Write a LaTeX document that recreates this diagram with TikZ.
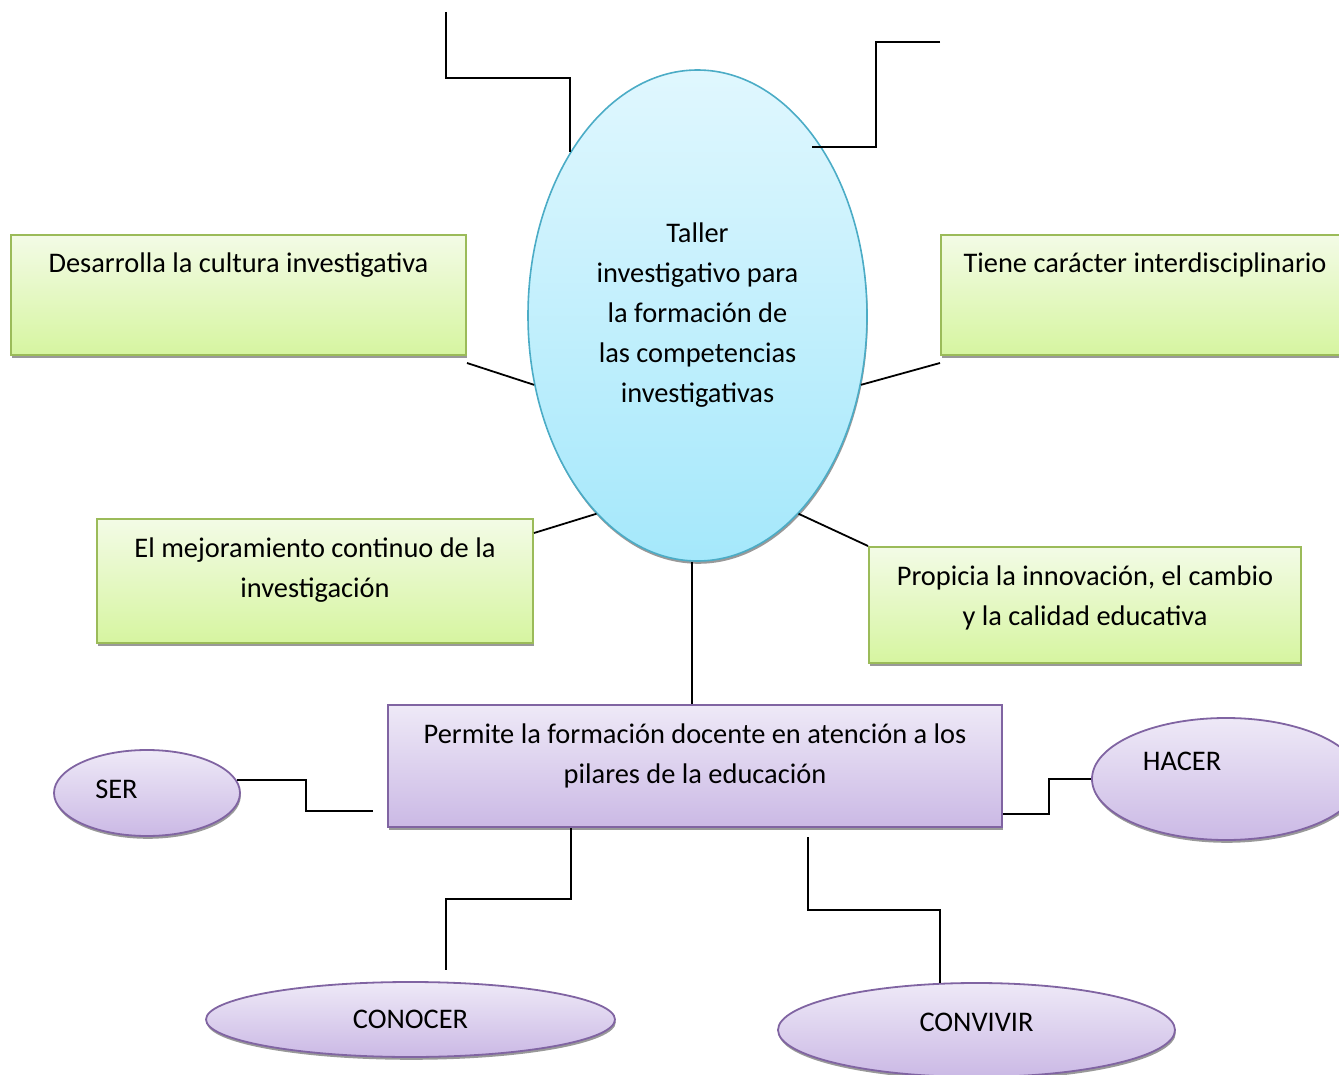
\documentclass[tikz,border=0pt]{standalone}
\usepackage{fontspec}
\setmainfont{Carlito}
\usepackage{tikz}
\usetikzlibrary{shapes.geometric, shadows}
\usetikzlibrary{calc}

\definecolor{azularriba}{HTML}{E0F7FE}
\definecolor{azulabajo}{HTML}{A5E8FB}
\definecolor{azulborde}{HTML}{4BACC6}
\definecolor{verdearriba}{HTML}{F3FBE6}
\definecolor{verdeabajo}{HTML}{D6F5A0}
\definecolor{verdeborde}{HTML}{9BBB59}
\definecolor{lilaarriba}{HTML}{EEE9F7}
\definecolor{lilaabajo}{HTML}{CBB9E5}
\definecolor{lilaborde}{HTML}{8064A2}

\begin{document}
\begin{tikzpicture}[x=0.5pt,y=-0.5pt,font=\fontsize{14.2}{20}\selectfont,
        sombra/.style={drop shadow={shadow xshift=0.4pt,shadow yshift=-1.4pt,fill=black!40,opacity=1}},
        caja/.style={rectangle,sombra,anchor=north west,line width=1pt,inner sep=0pt,align=flush center,text height=19pt},
        verde/.style={caja,draw=verdeborde,top color=verdearriba,bottom color=verdeabajo},
        lila/.style={caja,draw=lilaborde,top color=lilaarriba,bottom color=lilaabajo},
        pilar/.style={ellipse,sombra,draw=lilaborde,line width=0.9pt,top color=lilaarriba,bottom color=lilaabajo,inner sep=0pt},
        linea/.style={line width=0.9pt}]
                \useasboundingbox (0,0) rectangle (1339,1075);
                \node[ellipse,sombra,draw=azulborde,line width=0.8pt,top color=azularriba,bottom color=azulabajo,minimum width=169.5pt,minimum height=245.5pt,inner sep=0pt,align=center] (taller) at (697.5,315.5) {Taller\\investigativo para\\la formación de\\las competencias\\investigativas};
                \node[verde,text width=227.5pt,text depth=41pt] (desarrolla) at (10,234) {Desarrolla la cultura investigativa};
                \node[verde,text width=204pt,text depth=41pt] (tiene) at (940,234) {Tiene carácter interdisciplinario};
                \node[verde,text width=218pt,text depth=43pt] (mejora) at (96,518) {El mejoramiento continuo de la\\investigación};
                \node[verde,text width=216pt,text depth=39pt] (propicia) at (868,546) {Propicia la innovación, el cambio\\y la calidad educativa};
                \node[lila,text width=307pt,text depth=42pt] (permite) at (387,704) {Permite la formación docente en atención a los\\pilares de la educación};
                \node[pilar,minimum width=93pt,minimum height=43pt,text depth=4pt] (ser) at (147,793) {\mbox{SER\hspace{30.5pt}}};
                \node[pilar,minimum width=134pt,minimum height=61pt,text depth=18pt] (hacer) at (1226,779) {\mbox{HACER\hspace{44pt}}};
                \node[pilar,minimum width=204.5pt,minimum height=37.5pt] (conocer) at (410.5,1019.5) {CONOCER};
                \node[pilar,minimum width=198.5pt,minimum height=47pt,text depth=8pt] (convivir) at (976.5,1030) {CONVIVIR};
                % extremos sueltos
                \coordinate (tl) at (446,12);
                \coordinate (tr) at (940,42);
                \coordinate (trfin) at (812,147);
                \coordinate (serfin) at (373,811);
                \coordinate (conocerfin) at (446,970);
                \coordinate (convivirini) at (808,837);
                \draw[linea] (tl) -- ++(0,66) -| (taller.128);
                \draw[linea] (tr) -- ++(-64,0) |- (trfin);
                \draw[linea] ([yshift=-3.5pt]desarrolla.south east) -- (taller.203);
                \draw[linea] ([yshift=-3.5pt]tiene.south west) -- (taller.-23);
                \draw[linea] ([yshift=-7.5pt]mejora.north east) -- (taller.243);
                \draw[linea] (propicia.north west) -- (taller.-63);
                \draw[linea] ([xshift=-2.75pt]taller.south) -- ([xshift=-2.75pt]permite.north -| taller.south);
                \draw[linea] (ser.8) -- ++(69,0) |- (serfin);
                \draw[linea] ([yshift=7pt]permite.south east) -- ++(46,0) |- (hacer.west);
                \draw[linea] ([xshift=92pt]permite.south west) -- ++(0,71) -| (conocerfin);
                \draw[linea] (convivirini) -- ++(0,73) -| (convivir.128);
            \end{tikzpicture}
\end{document}
